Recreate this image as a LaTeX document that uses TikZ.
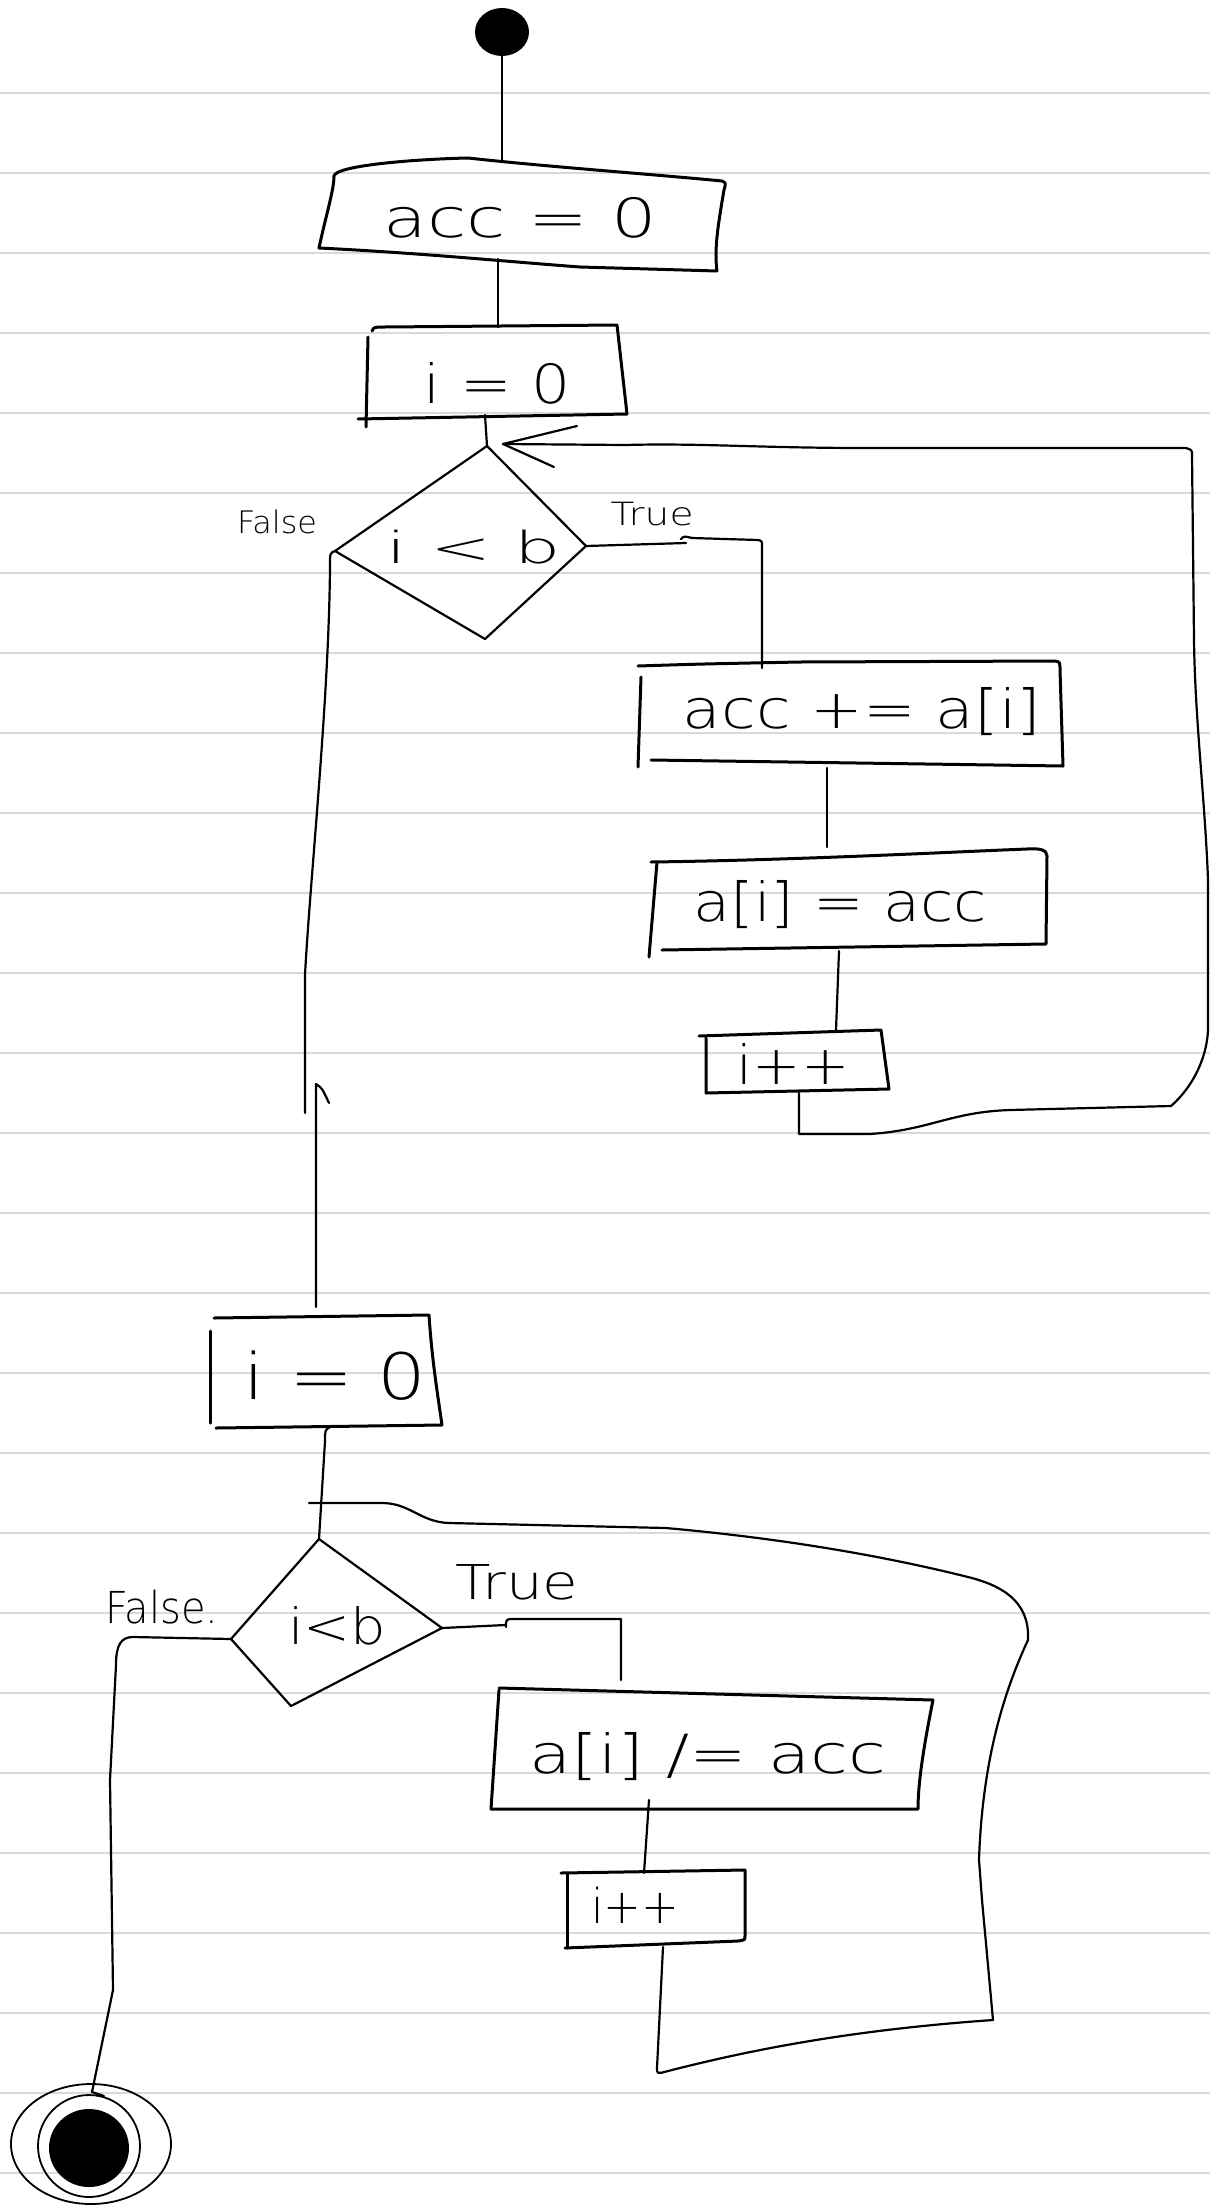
\documentclass[tikz,border=0pt]{standalone}
\usepackage{fontspec}
\setmainfont{DejaVu Sans}[UprightFont={* ExtraLight}]
\usepackage{graphicx}
\usetikzlibrary{shapes.geometric}
\newcommand{\hw}[2]{\resizebox{#1}{\height}{#2}}
\begin{document}
\begin{tikzpicture}[x=1pt,y=-1pt,
  hand/.style={line width=3pt,line cap=round,line join=round},
  conn/.style={line width=2.2pt,line cap=round,line join=round},
  txt/.style={inner sep=0pt,font=\fontsize{54}{60}\selectfont},
  lbl/.style={inner sep=0pt,font=\fontsize{32}{36}\selectfont},
  rulel/.style={line width=2pt,black!15},
]
\useasboundingbox (0,0) rectangle (1210,2210);
\fill[white] (0,0) rectangle (1210,2210);
\foreach \k in {0,...,26} \draw[rulel] (0,{93+80*\k}) -- (1210,{93+80*\k});

% ---------- texts ----------
\node[txt] (acc0) at (520,218) {\hw{273pt}{acc = 0}};
\node[txt] (i0) at (497,383) {\hw{147pt}{i = 0}};
\node[txt,font=\fontsize{44}{48}\selectfont] (cond1) at (474,547) {\hw{174pt}{i < b}};
\node[lbl,font=\fontsize{31}{34}\selectfont] (false1) at (277,522) {\hw{80pt}{False}};
\node[lbl] (true1) at (652,514) {\hw{83pt}{True}};
\node[txt] (accp) at (862,712) {\hw{358pt}{acc += a[i]}};
\node[txt] (aset) at (840,905) {\hw{293pt}{a[i] = acc}};
\node[txt] (inc1) at (793,1064) {\hw{113pt}{i++}};
\node[txt,font=\fontsize{64}{70}\selectfont] (i0b) at (335,1376) {\hw{183pt}{i = 0}};
\node[txt,font=\fontsize{50}{56}\selectfont] (cond2) at (337,1626) {\hw{98pt}{i<b}};
\node[lbl,font=\fontsize{44}{48}\selectfont] (false2) at (162,1607) {\hw{113pt}{False.}};
\node[lbl,font=\fontsize{48}{52}\selectfont] (true2) at (517,1582) {\hw{123pt}{True}};
\node[txt] (adiv) at (708,1757) {\hw{357pt}{a[i] /= acc}};
\node[txt,font=\fontsize{48}{54}\selectfont] (inc2) at (635,1905) {\hw{88pt}{i++}};

% ---------- start / end ----------
\node[fill=black,ellipse,minimum width=54pt,minimum height=48pt,inner sep=0pt] (start) at (502,32) {};
\node[draw,ellipse,line width=1.8pt,minimum width=160pt,minimum height=120pt,inner sep=0pt] (endo) at (91,2144) {};
\node[draw,ellipse,line width=1.8pt,minimum width=102pt,minimum height=102pt,inner sep=0pt] (endm) at (89,2146) {};
\node[fill=black,ellipse,minimum width=80pt,minimum height=78pt,inner sep=0pt] (endi) at (89,2148) {};

% ---------- connection points ----------
\coordinate (a0top) at (502,160);
\coordinate (a0bot) at (498,259);
\coordinate (i0top) at (498,327);
\coordinate (i0bot) at (485,415);
\coordinate (d1t) at (487,446);
\coordinate (d1r) at (586,546);
\coordinate (d1b) at (485,639);
\coordinate (d1l) at (335,551);
\coordinate (accptop) at (762,668);
\coordinate (accpbot) at (827,768);
\coordinate (asettop) at (827,847);
\coordinate (asetbot) at (839,951);
\coordinate (inc1top) at (836,1030);
\coordinate (inc1bot) at (799,1093);
\coordinate (loop1end) at (503,444);
\coordinate (false1end) at (305,1113);
\coordinate (i0btop) at (316,1307);
\coordinate (uptip) at (316,1084);
\coordinate (i0bbot) at (330,1427);
\coordinate (d2t) at (319,1539);
\coordinate (d2r) at (442,1628);
\coordinate (d2b) at (291,1706);
\coordinate (d2l) at (231,1639);
\coordinate (adivtop) at (621,1680);
\coordinate (adivbot) at (649,1800);
\coordinate (inc2top) at (644,1873);
\coordinate (inc2bot) at (663,1947);
\coordinate (loop2end) at (309,1503);
\coordinate (endtip) at (92,2092);

% ---------- box outlines ----------
\draw[hand] (717,271) -- (580,267) .. controls (500,261) and (420,253) .. (319,248)
  .. controls (326,215) and (334,190) .. (334,176)
  .. controls (336,165) and (420,159) .. (468,158)
  .. controls (550,167) and (650,174) .. (722,181)
  .. controls (726,183) .. (724,190)
  .. controls (718,225) and (714,250) .. (717,271);
\draw[hand] (372,331) .. controls (374,327) .. (385,327) -- (617,325) -- (627,414) -- (358,419);
\draw[hand] (368,337) -- (366,427);
\draw[conn] (d1t) -- (d1r) -- (d1b) -- (d1l) -- cycle;
\draw[hand] (638,666) .. controls (700,664) .. (800,662) -- (1055,661) .. controls (1060,662) .. (1060,670) -- (1063,766) -- (651,760);
\draw[hand] (641,677) -- (638,767);
\draw[hand] (651,862) .. controls (800,860) and (950,852) .. (1027,849) .. controls (1040,848) and (1047,850) .. (1047,856) -- (1046,944) -- (662,950);
\draw[hand] (657,862) -- (649,957);
\draw[hand] (699,1036) -- (881,1030) -- (889,1089) -- (706,1093) -- (706,1038);
\draw[hand] (214,1318) -- (429,1315) .. controls (432,1360) and (437,1390) .. (442,1425) -- (216,1428);
\draw[hand] (210,1331) -- (210,1423);
\draw[conn] (d2t) -- (d2r) -- (d2b) -- (d2l) -- cycle;
\draw[hand] (499,1688) -- (933,1700) .. controls (925,1740) and (918,1780) .. (918,1809) -- (491,1809) -- (499,1690);
\draw[hand] (561,1873) -- (745,1870) -- (745,1936) .. controls (745,1940) .. (738,1941) -- (565,1948);
\draw[hand] (567,1874) -- (567,1948);

% ---------- connectors ----------
\draw[conn] (start.south) -- (a0top);
\draw[conn] (a0bot) -- (i0top);
\draw[conn] (i0bot) -- (d1t);
\draw[conn] (d1r) -- (686,543);
\draw[conn] (681,539) .. controls (684,536) .. (692,538) -- (758,540) .. controls (762,541) .. (762,546) -- (accptop);
\draw[conn] (d1l) .. controls (330,553) .. (330,566) .. controls (329,700) and (310,880) .. (305,975) -- (false1end);
\draw[conn] (accpbot) -- (asettop);
\draw[conn] (asetbot) -- (inc1top);
\draw[conn] (inc1bot) -- (799,1134) -- (870,1134) .. controls (930,1130) and (950,1112) .. (1010,1110) -- (1171,1106)
  .. controls (1195,1085) and (1207,1055) .. (1208,1030) -- (1208,880)
  .. controls (1205,800) and (1195,720) .. (1194,640) -- (1192,455)
  .. controls (1192,450) .. (1186,448) -- (865,448)
  .. controls (760,448) and (700,443) .. (625,445) -- (loop1end);
\draw[conn] (577,426) -- (loop1end) -- (554,467);
\draw[conn] (i0btop) -- (uptip) .. controls (322,1088) .. (329,1103);
\draw[conn] (i0bbot) .. controls (325,1430) .. (325,1441) -- (d2t);
\draw[conn] (d2r) -- (505,1625);
\draw[conn] (506,1627) .. controls (506,1619) .. (514,1619) -- (621,1619) -- (adivtop);
\draw[conn] (d2l) -- (133,1637) .. controls (121,1637) and (116,1645) .. (116,1665) -- (110,1780) -- (113,1990) -- (endtip);
\draw[conn] (endtip) -- (104,2096);
\draw[conn] (adivbot) -- (inc2top);
\draw[conn] (inc2bot) -- (657,2068) .. controls (657,2074) .. (668,2071)
  .. controls (750,2050) and (850,2030) .. (993,2020) -- (982,1900) -- (979,1860)
  .. controls (982,1770) and (1000,1700) .. (1028,1640)
  .. controls (1030,1600) and (1000,1585) .. (968,1577)
  .. controls (900,1560) and (800,1540) .. (666,1528) -- (449,1523)
  .. controls (420,1522) and (410,1503) .. (382,1503) -- (loop2end);
\end{tikzpicture}
\end{document}
